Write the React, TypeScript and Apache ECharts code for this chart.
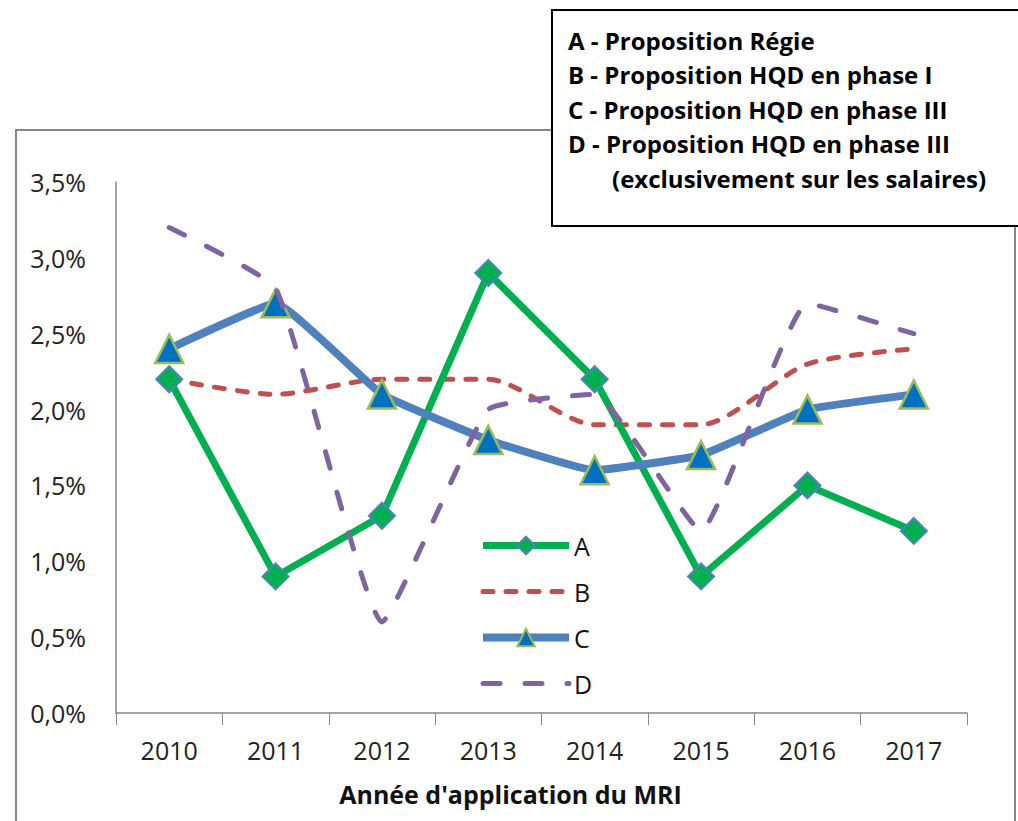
import React, { useEffect, useRef } from "react";
import * as echarts from "echarts";

const years = ["2010", "2011", "2012", "2013", "2014", "2015", "2016", "2017"];
const seriesA = [2.2, 0.9, 1.3, 2.9, 2.2, 0.9, 1.5, 1.2];
const seriesB = [2.2, 2.1, 2.2, 2.2, 1.9, 1.9, 2.3, 2.4];
const seriesC = [2.4, 2.7, 2.1, 1.8, 1.6, 1.7, 2.0, 2.1];
const seriesD = [3.2, 2.8, 0.6, 2.0, 2.1, 1.2, 2.7, 2.5];
const legendNames = ["A", "B", "C", "D"];
const boxLines = [
  "A - Proposition Régie",
  "B - Proposition HQD en phase I",
  "C - Proposition HQD en phase III",
  "D - Proposition HQD en phase III",
  "(exclusivement sur les salaires)",
];
const xTitle = "Année d'application du MRI";

const FONT = "'Open Sans', 'Noto Sans', sans-serif";

export default function App() {
  const ref = useRef<HTMLDivElement>(null);
  useEffect(() => {
    const chart = echarts.init(ref.current!, null, { renderer: "svg" });
    const boxText = boxLines.map((t, i) => ({
      type: "text",
      x: i === 4 ? 612 : 568,
      y: 40 + i * 34.6,
      z: 110,
      style: {
        text: t,
        font: `bold 24px ${FONT}`,
        fill: "#000",
        verticalAlign: "middle",
      },
    }));
    chart.setOption({
      animation: false,
      backgroundColor: "#fff",
      textStyle: { fontFamily: FONT },
      grid: { left: 116, right: 51, top: 182, bottom: 108 },
      legend: {
        data: legendNames.map((n) =>
          n === "B" || n === "D"
            ? { name: n, itemStyle: { opacity: 0 } }
            : { name: n }
        ),
        orient: "vertical",
        left: 474,
        top: 528,
        itemWidth: 86,
        itemHeight: 22,
        itemGap: 21,
        lineStyle: { width: "inherit" },
        textStyle: { fontSize: 25, color: "#111", fontFamily: FONT, padding: [0, 0, 0, 0] },
      },
      xAxis: {
        type: "category",
        data: years,
        boundaryGap: true,
        axisLine: { lineStyle: { color: "#868686", width: 1.5 } },
        axisTick: { show: true, length: 12, lineStyle: { color: "#868686" } },
        axisLabel: { fontSize: 25, color: "#222", margin: 24, fontFamily: FONT },
        name: xTitle,
        nameLocation: "middle",
        nameGap: 68,
        nameTextStyle: {
          fontSize: 25,
          fontWeight: "bold",
          color: "#111",
          fontFamily: FONT,
          padding: [0, 62, 0, 0],
        },
      },
      yAxis: {
        type: "value",
        min: 0,
        max: 3.5,
        interval: 0.5,
        splitLine: { show: false },
        axisLine: { show: true, lineStyle: { color: "#868686", width: 1.5 } },
        axisTick: { show: false },
        axisLabel: {
          fontSize: 25,
          color: "#222",
          margin: 30,
          fontFamily: FONT,
          formatter: (v: number) => v.toFixed(1).replace(".", ",") + "%",
        },
      },
      series: [
        {
          name: "A",
          type: "line",
          data: seriesA,
          symbol: "diamond",
          symbolSize: 26,
          lineStyle: { color: "#00B050", width: 7 },
          itemStyle: { color: "#00B050", borderColor: "#4F81BD", borderWidth: 2 },
          z: 3,
        },
        {
          name: "B",
          type: "line",
          data: seriesB,
          symbol: "none",
          smooth: 0.25,
          lineStyle: { color: "#C0504D", width: 5, type: [10, 13], cap: "round" },
          itemStyle: { color: "#C0504D" },
          z: 2,
        },
        {
          name: "C",
          type: "line",
          data: seriesC,
          symbol: "triangle",
          symbolSize: 28,
          smooth: 0.1,
          lineStyle: { color: "#4F81BD", width: 8 },
          itemStyle: { color: "#0070C0", borderColor: "#9BBB59", borderWidth: 2.5 },
          z: 4,
        },
        {
          name: "D",
          type: "line",
          data: seriesD,
          symbol: "none",
          smooth: 0.12,
          lineStyle: { color: "#8064A2", width: 5, type: [17, 25], cap: "round" },
          itemStyle: { color: "#8064A2" },
          z: 5,
        },
      ],
      graphic: [
        {
          type: "rect",
          shape: { x: 16, y: 130, width: 999, height: 720 },
          style: { fill: "none", stroke: "#868686", lineWidth: 2 },
          silent: true,
          z: 90,
        },
        {
          type: "rect",
          shape: { x: 552, y: 10, width: 470, height: 216 },
          style: { fill: "#fff", stroke: "#000", lineWidth: 2 },
          z: 100,
        },
        ...boxText,
      ],
    });
    return () => chart.dispose();
  }, []);
  return (
    <div
      ref={ref}
      style={{ position: "fixed", left: 0, top: 0, width: 1018, height: 821 }}
    />
  );
}
